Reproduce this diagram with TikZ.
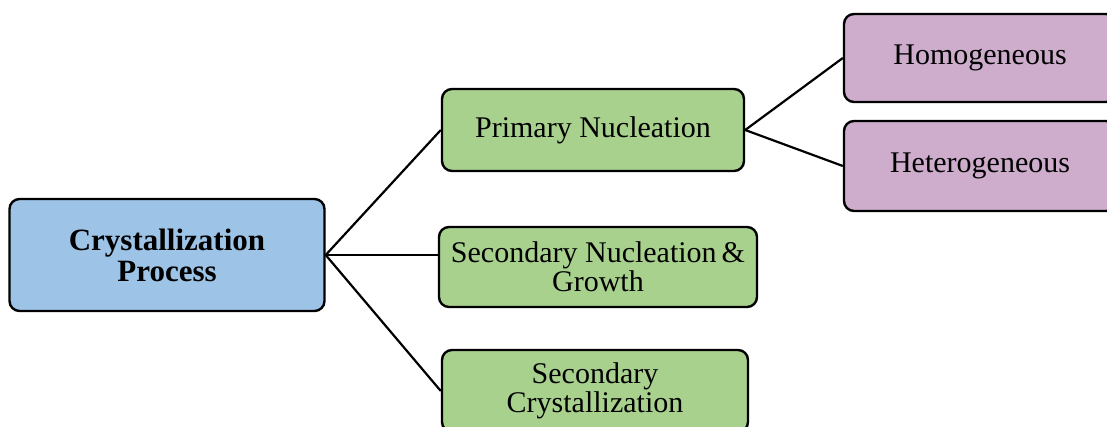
\documentclass[tikz,border=0pt]{standalone}
\usepackage{fontspec}
\setmainfont{Liberation Serif}
\usepackage{xcolor}
\usetikzlibrary{positioning}
\definecolor{procblue}{RGB}{157,195,230}
\definecolor{stagegreen}{RGB}{169,209,142}
\definecolor{typepurple}{RGB}{205,172,204}

\begin{document}
\begin{tikzpicture}[x=0.5pt, y=-0.5pt,
    box/.style={draw, line width=1.2pt, rounded corners=5pt, align=center, inner sep=2pt,
        font=\fontsize{15}{14.5}\selectfont},
    mainbox/.style={box, fill=procblue, font=\fontsize{15.5}{15.5}\selectfont\bfseries},
    stagebox/.style={box, fill=stagegreen},
    typebox/.style={box, fill=typepurple},
    link/.style={line width=1.1pt}]
    \useasboundingbox (0,0) rectangle (1107,427);
    \clip (0,0) rectangle (1107,427);

    % 主过程
    \node[mainbox, minimum width=157.5pt, minimum height=56pt] (proc) at (167,255) {Crystallization\\Process};

    % 三个阶段
    \node[stagebox, minimum width=151pt, minimum height=41pt] (prim) at (593,130) {Primary Nucleation};
    \node[stagebox, minimum width=159pt, minimum height=40pt] (secn) at (598,267) {Secondary Nucleation\,\&\\Growth};
    \node[stagebox, minimum width=153pt, minimum height=41pt] (secc) at (595,391) {Secondary\\Crystallization};

    % 成核类型
    \node[typebox, minimum width=136pt, minimum height=44pt] (homo) at (980,58) {Homogeneous};
    \node[typebox, minimum width=136pt, minimum height=45pt] (hete) at (980,166) {Heterogeneous};

    % 连线
    \draw[link] (proc.east) -- (prim.west);
    \draw[link] (proc.east) -- (proc.east -| secn.west);
    \draw[link] (proc.east) -- (secc.west);
    \draw[link] (prim.east) -- (homo.west);
    \draw[link] (prim.east) -- (hete.west);
\end{tikzpicture}
\end{document}
